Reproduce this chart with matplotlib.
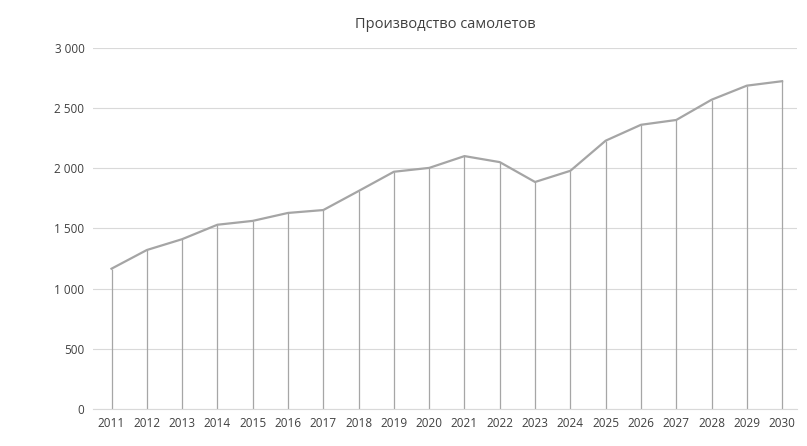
import matplotlib
matplotlib.use("Agg")
import matplotlib.pyplot as plt
from matplotlib.ticker import FuncFormatter

years = list(range(2011, 2031))
values = [1165, 1320, 1410, 1530, 1562, 1628, 1652, 1810, 1970, 2002, 2100, 2050, 1885, 1978, 2228, 2360, 2400, 2568, 2685, 2722]

plt.rcParams['font.family'] = ['Open Sans', 'DejaVu Sans']
fig = plt.figure(figsize=(8.07, 4.46), dpi=100)
ax = fig.add_axes([0.115, 0.083, 0.873, 0.81])
ax.set_xlim(years[0] - 0.53, years[-1] + 0.43)
ax.set_ylim(0, 3000)
ax.set_yticks(range(0, 3001, 500))
ax.yaxis.set_major_formatter(FuncFormatter(lambda v, p: f"{int(v):,}".replace(",", " ")))
ax.grid(axis='y', color='#d9d9d9', lw=0.8)
ax.set_axisbelow(True)
ax.vlines(years, 0, values, color='#a6a6a6', lw=0.9)
ax.plot(years, values, color='#a5a5a5', lw=1.6)
ax.set_xticks(years)
for s in ['top', 'right', 'left']:
    ax.spines[s].set_visible(False)
ax.spines['bottom'].set_color('#d9d9d9')
ax.tick_params(length=0, labelsize=8.5, colors='#404040', pad=6)
ax.set_title("Производство самолетов", fontsize=10.5, color='#404040', pad=14)
fig.savefig("out.png")
